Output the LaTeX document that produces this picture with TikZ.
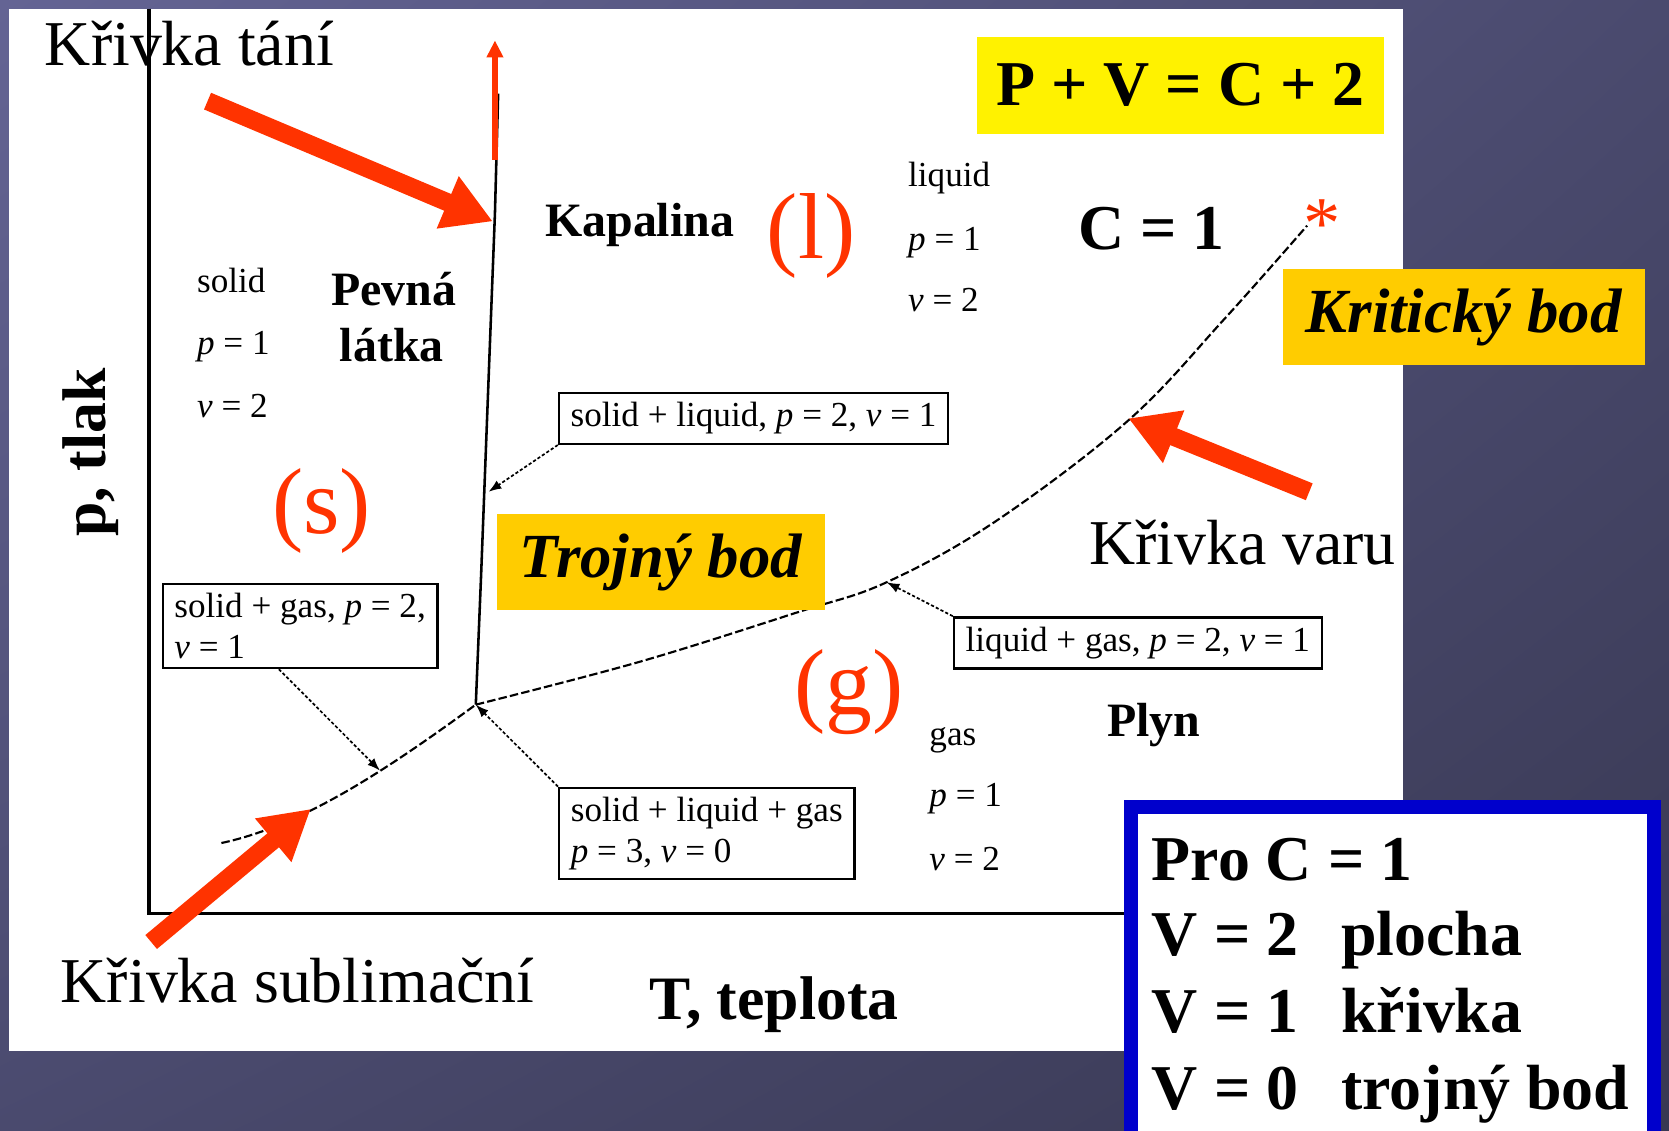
\documentclass[tikz,border=0pt]{standalone}
\usepackage{fontspec}
\setmainfont{Liberation Serif}
\usetikzlibrary{arrows.meta,positioning,shadings}

\definecolor{redA}{HTML}{FF3300}
\definecolor{goldA}{HTML}{FFCC00}
\definecolor{blueA}{HTML}{0000CC}
\definecolor{bgA}{HTML}{646494}
\definecolor{bgB}{HTML}{4A4A6E}
\definecolor{bgC}{HTML}{383852}

\begin{document}
\begin{tikzpicture}[x=1pt,y=-1pt,>={Latex[length=12pt,width=9pt]},
  every node/.style={inner sep=0pt},
  lbl/.style={font=\fontsize{60}{66}\selectfont},
  bigb/.style={font=\fontsize{58}{64}\selectfont\bfseries},
  regb/.style={font=\fontsize{45}{50}\selectfont\bfseries},
  smalltxt/.style={font=\fontsize{33}{38}\selectfont},
  phasetxt/.style={font=\fontsize{88}{90}\selectfont,text=redA},
  infobox/.style={draw,line width=2.2pt,smalltxt,inner xsep=11pt,inner ysep=9pt,fill=white},
  tagbox/.style={fill=goldA,font=\fontsize{59}{64}\selectfont\bfseries\itshape,minimum height=90pt},
  pcurve/.style={line width=2.4pt},
  dashcurve/.style={line width=2pt,dash pattern=on 8pt off 3pt},
  notearrow/.style={->,densely dashed,line width=1.6pt},
  redarrow/.style={redA,line width=17pt,-{Triangle[length=46pt,width=50pt]}}]

\shade[upper left=bgA,upper right=bgB,lower left=bgB,lower right=bgC] (0,0) rectangle (1568,1062);
\useasboundingbox (0,0) rectangle (1568,1062);
\fill[white] (8,8) rectangle (1318,987);

% 軸
\coordinate (ytop) at (140,8);
\coordinate (xend) at (1060,858);
\draw[line width=3pt] (ytop) |- (xend);
\node[bigb,rotate=90] (ylab) at (85,425) {p, tlak};
\node[bigb,anchor=base west] (xlab) at (610,958) {T, teplota};

% 曲線
\coordinate (tp) at (447,662);
\coordinate (cp) at (1228,212);
\coordinate (mt) at (468,88);
\coordinate (sb) at (208,792);
\draw[pcurve] (tp) -- (452,540) -- (460,330) -- (465,200) -- (mt);
\draw[dashcurve] (sb) .. controls (288,775) and (370,718) .. (tp);
\draw[dashcurve] plot[smooth,tension=0.6]
  coordinates {(tp) (600,622) (750,575) (833,547) (935,490) (1060,395) (1150,300) (cp)};
\node[text=redA,font=\fontsize{70}{70}\selectfont,anchor=base] (star) at (1242,233) {*};

% 注記
\node[infobox] (slbox) at (708,393) {solid + liquid, \textit{p} = 2, \textit{ν} = 1};
\node[infobox,align=left] (sgbox) at (282,588) {solid + gas, \textit{p} = 2,\\\textit{ν} = 1};
\node[infobox] (lgbox) at (1069,604) {liquid + gas, \textit{p} = 2, \textit{ν} = 1};
\node[infobox,align=left] (tpbox) at (664,783) {solid + liquid + gas\\\textit{p} = 3, \textit{ν} = 0};
\coordinate (slpt) at (459,462);
\coordinate (sgpt) at (357,724);
\coordinate (lgpt) at (833,547);
\draw[notearrow] (slbox.south west) -- (slpt);
\draw[notearrow] ([xshift=-20pt]sgbox.south) -- (sgpt);
\draw[notearrow] (lgbox.north west) -- (lgpt);
\draw[notearrow] (tpbox.north west) -- (tp);

% 固相
\node[smalltxt,anchor=base west] (s1) at (185,275) {solid};
\node[smalltxt,anchor=base west] (s2) at (185,333) {\textit{p} = 1};
\node[smalltxt,anchor=base west] (s3) at (185,392) {\textit{ν} = 2};
\node[regb,anchor=base] (pevna) at (370,287) {Pevná};
\node[regb,anchor=base] (latka) at (368,340) {látka};
\node[phasetxt,anchor=base] (ls) at (302,501) {(s)};

% 液相
\node[regb,anchor=base west] (kap) at (512,222) {Kapalina};
\node[phasetxt,anchor=base] (ll) at (762,243) {(l)};
\node[smalltxt,anchor=base west] (l1) at (853,175) {liquid};
\node[smalltxt,anchor=base west] (l2) at (853,235) {\textit{p} = 1};
\node[smalltxt,anchor=base west] (l3) at (853,293) {\textit{ν} = 2};
\node[font=\fontsize{60}{66}\selectfont\bfseries,anchor=base west] (c1) at (1013,234) {C = 1};

% 気相
\node[phasetxt,anchor=base] (lg) at (798,671) {(g)};
\node[regb,anchor=base west] (plyn) at (1040,692) {Plyn};
\node[smalltxt,anchor=base west] (g1) at (873,700) {gas};
\node[smalltxt,anchor=base west] (g2) at (873,758) {\textit{p} = 1};
\node[smalltxt,anchor=base west] (g3) at (873,818) {\textit{ν} = 2};

% ラベル
\node[fill=yellow,minimum width=382pt,minimum height=91pt,font=\fontsize{60}{66}\selectfont\bfseries] (pv) at (1109,80) {P + V = C + 2};
\node[tagbox,minimum width=340pt] (krit) at (1375,298) {Kritický bod};
\node[tagbox,minimum width=308pt] (troj) at (621,528) {Trojný bod};
\node[lbl,anchor=base west] (melt) at (42,62) {Křivka tání};
\node[lbl,anchor=base west] (boil) at (1023,530) {Křivka varu};
\node[lbl,anchor=base west] (subl) at (57,942) {Křivka sublimační};

% 矢印
\coordinate (a1s) at (195,95);
\coordinate (a1e) at (463,208);
\coordinate (a2s) at (142,885);
\coordinate (a2e) at (292,760);
\coordinate (a3s) at (1230,462);
\coordinate (a3e) at (1060,393);
\coordinate (a4s) at (465,150);
\coordinate (a4e) at (465,38);
\draw[redarrow] (a1s) -- (a1e);
\draw[redarrow] (a2s) -- (a2e);
\draw[redarrow] (a3s) -- (a3e);
\draw[redA,line width=5pt,-{Triangle[length=16pt,width=15pt]}] (a4s) -- (a4e);

% C = 1 の表
\draw[blueA,line width=13pt,fill=white] (1062.5,758.5) rectangle (1553.5,1090);
\node[font=\fontsize{60}{66}\selectfont\bfseries,anchor=base west] (pro) at (1082,827) {Pro C = 1};
\node[font=\fontsize{60}{66}\selectfont\bfseries,anchor=base west] (v2) at (1082,898) {V = 2};
\node[font=\fontsize{60}{66}\selectfont\bfseries,anchor=base west] (v1) at (1082,970) {V = 1};
\node[font=\fontsize{60}{66}\selectfont\bfseries,anchor=base west] (v0) at (1082,1042) {V = 0};
\node[font=\fontsize{60}{66}\selectfont\bfseries,anchor=base west] (plocha) at (1260,898) {plocha};
\node[font=\fontsize{60}{66}\selectfont\bfseries,anchor=base west] (krivka) at (1260,970) {křivka};
\node[font=\fontsize{60}{66}\selectfont\bfseries,anchor=base west] (trojny) at (1260,1042) {trojný bod};

\end{tikzpicture}
\end{document}
